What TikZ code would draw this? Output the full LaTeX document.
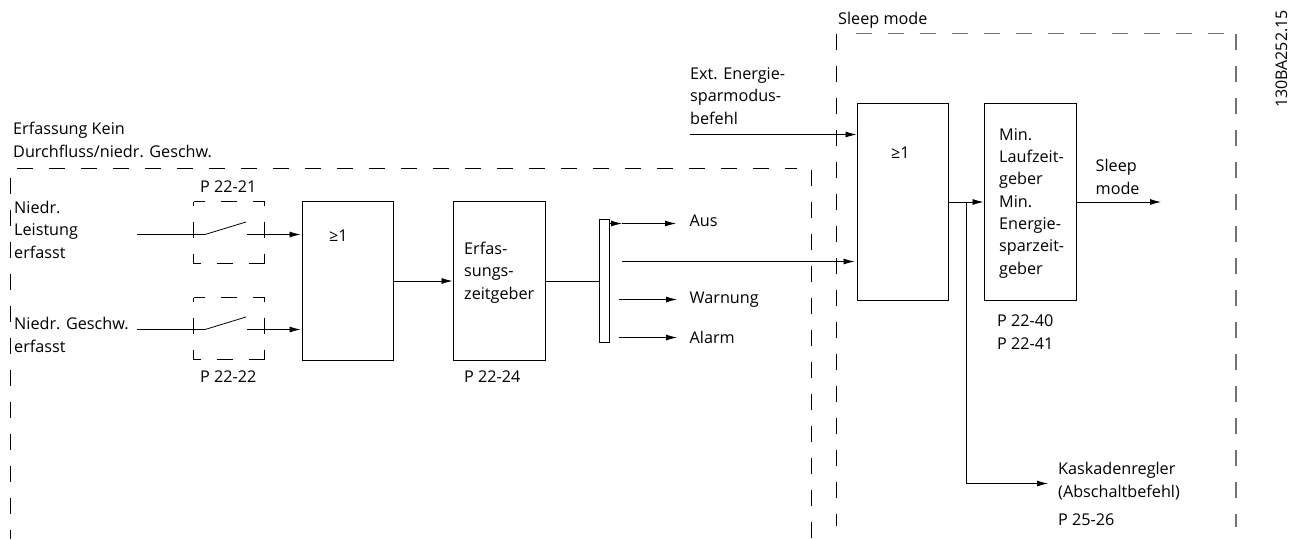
\documentclass[tikz,border=0pt]{standalone}
\usepackage{fontspec}
\setmainfont{Open Sans}
\usetikzlibrary{arrows.meta}
\begin{document}
\begin{tikzpicture}[
  x=1pt, y=-1pt,
  lbl/.style={anchor=base west, inner sep=0pt, align=left,
    font=\fontsize{16.2}{22.3}\selectfont},
  box/.style={rectangle, draw, line width=0.8pt, anchor=north west, inner sep=0pt, outer sep=0pt},
  wire/.style={line width=0.8pt},
  arr/.style={wire, -{Latex[length=11pt,width=6pt]}},
  frame/.style={line width=0.8pt, dash pattern=on 16pt off 16pt},
  sleepframe/.style={line width=1.3pt, black!55, dash pattern=on 16pt off 16pt},
  swbox/.style={rectangle, anchor=north west, inner sep=0pt, outer sep=0pt,
    minimum width=71pt, minimum height=62pt},
  swdash/.style={line width=0.8pt, dash pattern=on 16pt off 16pt},
]
\useasboundingbox (0,0) rectangle (1289,539);

% Dashed frames
\draw[frame] (17,168.5) -- (797,168.5);
\draw[frame] (10.5,178) -- (10.5,539);
\draw[frame] (811,170) -- (811,539);
\draw[frame] (836.5,33.5) -- (836.5,526);
\draw[sleepframe] (856,33.5) -- (1226,33.5);
\draw[sleepframe] (1236,33.5) -- (1236,527);

% Blocks
\node[box, minimum width=91pt, minimum height=159pt] (orone) at (302.5,201.5) {};
\node[box, minimum width=92pt, minimum height=159pt] (timer) at (453.5,201.5) {};
\node[box, minimum width=10pt, minimum height=123pt] (bar) at (599.5,219.5) {};
\node[box, minimum width=91pt, minimum height=197pt] (ortwo) at (857.5,103.5) {};
\node[box, minimum width=92pt, minimum height=197pt] (sleeptimer) at (984.5,103.5) {};

% Switch boxes
\node[swbox] (swone) at (193.5,201.5) {};
\node[swbox] (swtwo) at (193.5,297.5) {};
\draw[swdash, dash phase=5] (swone.north west) -- (swone.north east) -- (swone.south east);
\draw[swdash, dash phase=9] (swone.south west) -- (swone.south east);
\draw[swdash, dash phase=6] (swone.south west) -- (swone.north west);
\draw[swdash, dash phase=5] (swtwo.north west) -- (swtwo.north east) -- (swtwo.south east);
\draw[swdash, dash phase=9] (swtwo.south west) -- (swtwo.south east);
\draw[swdash, dash phase=6] (swtwo.south west) -- (swtwo.north west);

% Switch 1
\coordinate (inone) at (137,234.5);
\coordinate (hingeone) at (205,234.5);
\coordinate (armone) at (246,222);
\coordinate (outone) at (247,234.5);
\draw[wire] (inone) -- (hingeone) -- (armone);
\draw[arr, shorten >=2pt] (outone) -- (outone -| orone.west);

% Switch 2
\coordinate (intwo) at (137,329.5);
\coordinate (hingetwo) at (205,329.5);
\coordinate (armtwo) at (246,317);
\coordinate (outtwo) at (247,329.5);
\draw[wire] (intwo) -- (hingetwo) -- (armtwo);
\draw[arr, shorten >=2pt] (outtwo) -- (outtwo -| orone.west);

% Connections
\draw[arr, shorten >=1pt] (orone.east) -- (timer.west);
\draw[wire] (timer.east) -- (timer.east -| bar.west);

\coordinate (ausmid) at (622,223.5);
\coordinate (ausend) at (676,223.5);
\draw[arr] (ausmid -| bar.east) -- (ausmid);
\draw[arr] (ausmid) -- (ausend);

\coordinate (sleepin) at (622,261.5);
\draw[arr, shorten >=3pt] (sleepin) -- (sleepin -| ortwo.west);

\coordinate (warnin) at (619,299.5);
\coordinate (warnend) at (677,299.5);
\draw[arr] (warnin) -- (warnend);
\coordinate (alarmin) at (619,337.5);
\coordinate (alarmend) at (677,337.5);
\draw[arr] (alarmin) -- (alarmend);

\coordinate (extin) at (689.5,134.5);
\draw[arr, shorten >=1pt] (extin) -- (extin -| ortwo.west);

\draw[arr, shorten >=1pt] (ortwo.east) -- (sleeptimer.west);
\coordinate (sleepout) at (1161,202);
\draw[arr] (sleeptimer.east) -- (sleeptimer.east -| sleepout);

\coordinate (branch) at (966.5,202);
\coordinate (cascade) at (1048,483.5);
\draw[arr] (branch |- ortwo.east) |- (cascade);

% Labels
\node[lbl] (lbldetect) at (13,157) {Erfassung Kein\\Durchfluss/niedr. Geschw.};
\node[lbl] (lblpone) at (200,192) {P 22-21};
\node[lbl] (lbllow) at (14,258) {Niedr.\\Leistung\\erfasst};
\node[lbl] (lblspeed) at (14,352) {Niedr. Geschw.\\erfasst};
\node[lbl] (lblptwo) at (200,382) {P 22-22};
\node[lbl] (lblorone) at (329,241) {≥1};
\node[lbl] (lbltimer) at (464,299) {Erfas-\\sungs-\\zeitgeber};
\node[lbl] (lblpthree) at (464,382) {P 22-24};
\node[lbl] (lblaus) at (689.5,226) {Aus};
\node[lbl] (lblwarn) at (689.5,303) {Warnung};
\node[lbl] (lblalarm) at (689.5,343) {Alarm};
\node[lbl] (lblsleep) at (838,24) {Sleep mode};
\node[lbl] (lblext) at (690,124) {Ext. Energie-\\sparmodus-\\befehl};
\node[lbl] (lblortwo) at (891,158) {≥1};
\node[lbl] (lblmin) at (999,274) {Min.\\Laufzeit-\\geber\\Min.\\Energie-\\sparzeit-\\geber};
\node[lbl] (lblout) at (1095.5,194) {Sleep\\mode};
\node[lbl] (lblpfour) at (997,349) {P 22-40\\P 22-41};
\node[lbl] (lblcascade) at (1058,497) {Kaskadenregler\\(Abschaltbefehl)};
\node[lbl] (lblpfive) at (1058,525) {P 25-26};
\node[lbl, rotate=90, font=\fontsize{16}{18}\selectfont] (lblcode) at (1287,108) {130BA252.15};
\end{tikzpicture}
\end{document}
